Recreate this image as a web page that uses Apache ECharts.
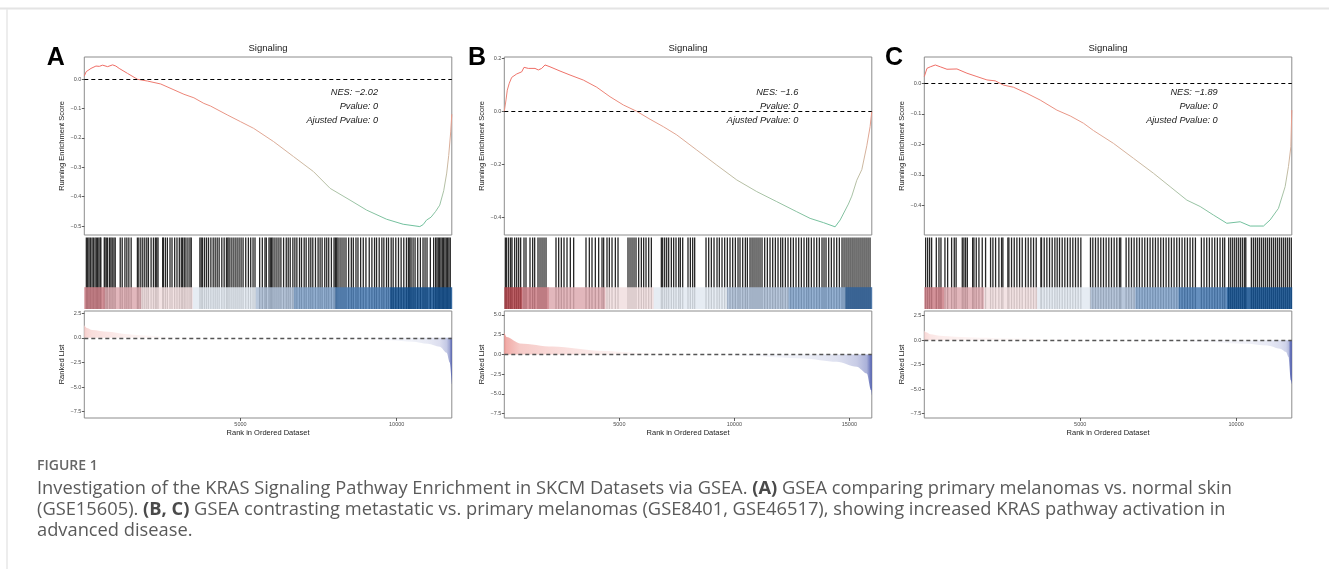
<!DOCTYPE html>
<html>
<head>
<meta charset="utf-8">
<script src="https://cdn.jsdelivr.net/npm/echarts@6/dist/echarts.min.js"></script>
<style>
  html, body { margin: 0; padding: 0; background: #fff; }
  #chart { width: 1329px; height: 569px; }
</style>
</head>
<body>
<div id="chart"></div>
<script>
// ---- data ----
const nGenesA = 11765, nGenesB = 15974, nGenesC = 11785;
const rankTicksAC = [5000, 10000];
const rankTicksB = [5000, 10000, 15000];

const esTicksA = [0.0, -0.1, -0.2, -0.3, -0.4, -0.5];
const esTicksB = [0.2, 0.0, -0.2, -0.4];
const esTicksC = [0.0, -0.1, -0.2, -0.3, -0.4];
const rlTicksA = [2.5, 0.0, -2.5, -5.0, -7.5];
const rlTicksB = [5.0, 2.5, 0.0, -2.5, -5.0, -7.5];
const rlTicksC = [2.5, 0.0, -2.5, -5.0, -7.5];

// running enrichment score
const esRankA = [0, 60, 214, 373, 480, 587, 746, 906, 1010, 1117, 1384, 1703, 2022, 2447, 2871, 3190, 3509, 3828, 4042, 4574, 4999, 5423, 6061, 6699, 7337, 7870, 8508, 9040, 9678, 10208, 10741, 10850, 10955, 11100, 11250, 11379, 11506, 11602, 11666, 11730, 11765];
const esValA = [0.01, 0.025, 0.036, 0.044, 0.043, 0.047, 0.042, 0.048, 0.044, 0.036, 0.019, -0.001, -0.007, -0.017, -0.037, -0.052, -0.064, -0.083, -0.092, -0.122, -0.145, -0.168, -0.213, -0.264, -0.315, -0.372, -0.412, -0.446, -0.477, -0.494, -0.502, -0.495, -0.48, -0.47, -0.45, -0.429, -0.38, -0.32, -0.26, -0.18, -0.12];

const esRankB = [0, 74, 130, 217, 322, 539, 757, 857, 1044, 1335, 1478, 1626, 1770, 1987, 2422, 2857, 3435, 4018, 4596, 5174, 5757, 6335, 6913, 7496, 8365, 9235, 10105, 10974, 11844, 12713, 13292, 13870, 14379, 14600, 14957, 15105, 15322, 15540, 15757, 15900, 15974];
const esValB = [0.0, 0.043, 0.080, 0.106, 0.128, 0.141, 0.149, 0.166, 0.162, 0.162, 0.156, 0.162, 0.175, 0.168, 0.152, 0.137, 0.118, 0.091, 0.055, 0.024, 0.0, -0.030, -0.058, -0.089, -0.146, -0.203, -0.259, -0.303, -0.341, -0.379, -0.404, -0.420, -0.436, -0.41, -0.35, -0.32, -0.26, -0.22, -0.13, -0.058, 0.0];

const esRankC = [0, 86, 192, 353, 513, 727, 1047, 1368, 1688, 2009, 2275, 2542, 2862, 3290, 3717, 4252, 4679, 5105, 5426, 6067, 6708, 7349, 7884, 8419, 8846, 9274, 9701, 10128, 10449, 10876, 11090, 11357, 11571, 11678, 11755, 11785];
const esValC = [0.022, 0.049, 0.054, 0.060, 0.054, 0.046, 0.047, 0.033, 0.022, 0.011, 0.008, -0.006, -0.013, -0.033, -0.055, -0.088, -0.107, -0.131, -0.155, -0.197, -0.246, -0.295, -0.339, -0.383, -0.404, -0.432, -0.459, -0.454, -0.468, -0.468, -0.448, -0.410, -0.339, -0.273, -0.208, -0.088];

// ranks of the gene-set members (barcode)
const hitsA = [65, 108, 150, 193, 246, 289, 342, 384, 427, 469, 512, 530, 640, 661, 703, 746, 809, 852, 894, 948, 990, 1150, 1213, 1300, 1362, 1426, 1500, 1700, 1745, 1809, 1872, 1936, 2000, 2053, 2138, 2213, 2276, 2319, 2360, 2510, 2531, 2595, 2659, 2744, 2808, 2893, 2967, 3042, 3105, 3148, 3201, 3254, 3318, 3382, 3424, 3701, 3743, 3786, 3850, 3913, 3977, 4052, 4126, 4190, 4254, 4317, 4402, 4477, 4551, 4594, 4636, 4700, 4764, 4828, 4891, 4955, 5019, 5083, 5168, 5253, 5327, 5402, 5465, 5614, 5699, 5784, 5827, 5912, 5954, 5997, 6040, 6103, 6167, 6231, 6294, 6380, 6465, 6528, 6592, 6677, 6741, 6805, 6890, 6954, 7039, 7102, 7187, 7251, 7315, 7400, 7485, 7549, 7613, 7698, 7761, 7825, 7910, 7995, 8038, 8080, 8123, 8187, 8250, 8314, 8378, 8463, 8548, 8612, 8697, 8761, 8846, 8931, 9016, 9122, 9207, 9292, 9356, 9441, 9526, 9590, 9675, 9739, 9824, 9888, 9972, 10058, 10143, 10228, 10313, 10376, 10419, 10461, 10525, 10589, 10674, 10759, 10844, 10908, 10972, 11078, 11184, 11248, 11291, 11333, 11376, 11418, 11461, 11503, 11546, 11588, 11631, 11673, 11716];
const hitsB = [45, 103, 190, 277, 335, 451, 538, 625, 711, 856, 943, 1117, 1233, 1320, 1465, 1552, 1639, 1726, 1813, 2247, 2363, 2479, 2595, 2726, 2870, 3015, 3551, 3696, 3812, 3957, 4102, 4247, 4319, 4464, 4566, 4682, 4827, 4943, 5377, 5464, 5551, 5638, 5725, 5841, 5957, 6058, 6160, 6276, 6392, 6826, 6884, 6971, 7058, 7145, 7261, 7362, 7464, 7580, 7652, 7754, 7985, 8087, 8188, 8275, 8768, 8884, 9000, 9116, 9246, 9347, 9463, 9579, 9695, 9811, 9927, 10043, 10159, 10246, 10362, 10478, 10565, 10681, 10768, 10854, 10941, 11028, 11115, 11202, 11318, 11434, 11550, 11666, 11782, 11898, 12014, 12101, 12217, 12332, 12448, 12564, 12680, 12796, 12912, 13028, 13144, 13231, 13347, 13463, 13579, 13694, 13810, 13897, 13984, 14100, 14216, 14332, 14448, 14564, 14680, 14767, 14854, 14941, 15028, 15115, 15201, 15288, 15375, 15462, 15549, 15636, 15723, 15810, 15897];
const hitsC = [43, 107, 171, 235, 385, 470, 534, 662, 748, 876, 961, 1020, 1218, 1270, 1324, 1380, 1550, 1591, 1666, 1752, 1858, 1965, 2125, 2200, 2286, 2392, 2478, 2520, 2680, 2713, 2798, 2884, 2969, 3055, 3140, 3247, 3332, 3418, 3503, 3589, 3740, 3759, 3845, 3930, 4016, 4101, 4187, 4261, 4336, 4422, 4507, 4592, 4678, 4763, 4849, 4934, 5020, 5329, 5404, 5490, 5575, 5660, 5746, 5831, 5917, 6002, 6088, 6173, 6259, 6300, 6472, 6558, 6643, 6728, 6814, 6899, 6985, 7070, 7156, 7241, 7327, 7412, 7497, 7583, 7668, 7754, 7839, 7925, 8010, 8096, 8181, 8266, 8352, 8437, 8523, 8608, 8694, 8886, 8971, 9057, 9142, 9228, 9313, 9398, 9484, 9569, 9633, 9762, 9826, 9890, 9954, 10018, 10082, 10146, 10210, 10274, 10310, 10488, 10552, 10616, 10680, 10744, 10808, 10872, 10936, 11000, 11065, 11129, 11193, 11257, 11321, 11385, 11449, 11513, 11577, 11641, 11705, 11769];

// colour band under the barcode: bin edges (rank) and bin level (0 = most up, 9 = most down)
const bandEdgesA = [0, 650, 1820, 3470, 5490, 6710, 8040, 9790, 11765];
const bandLevelA = [1, 2, 3, 4, 5, 6, 7, 9];
const bandEdgesB = [0, 770, 1930, 4390, 6490, 9680, 12360, 14825, 15974];
const bandLevelB = [0, 1, 2, 3, 4, 5, 6, 8];
const bandEdgesC = [0, 630, 1910, 3620, 5330, 6770, 8160, 9710, 11785];
const bandLevelC = [1, 2, 3, 4, 5, 6, 7, 9];

// ranked list metric
const rlRankA = [0, 80, 250, 750, 1300, 1800, 2500, 2900, 4000, 5000, 6000, 7000, 8000, 9000, 9800, 10500, 11000, 11380, 11600, 11700, 11765];
const rlValA = [1.3, 1.0, 0.8, 0.61, 0.4, 0.27, 0.15, 0.1, 0.05, 0.02, 0.0, -0.03, -0.07, -0.13, -0.25, -0.4, -0.6, -0.9, -1.5, -2.5, -4.7];
const rlRankB = [0, 100, 680, 2100, 4300, 6000, 7500, 9000, 10500, 13000, 14450, 15320, 15757, 15944, 15974];
const rlValB = [2.8, 2.2, 1.4, 1.0, 0.45, 0.2, 0.05, -0.05, -0.2, -0.5, -0.92, -1.55, -2.4, -4.5, -5.2];
const rlRankC = [0, 60, 200, 500, 1000, 1800, 2800, 4000, 5000, 6000, 7000, 8000, 9000, 10342, 11000, 11410, 11600, 11678, 11755, 11785];
const rlValC = [1.0, 0.8, 0.6, 0.45, 0.35, 0.25, 0.17, 0.1, 0.05, 0.0, -0.05, -0.1, -0.18, -0.37, -0.55, -0.88, -1.2, -1.7, -4.1, -4.5];

const nesLabels = ['NES: \u22122.02', 'NES: \u22121.6', 'NES: \u22121.89'];

// ---- layout / styling ----
const FONT = 'Liberation Sans, Arial, Helvetica, sans-serif';
const bandPalette = ['#b3464e', '#cb7e86', '#ddaab0', '#f1dedf', '#e2e9f1', '#abbdd5', '#84a4cb', '#4b7db4', '#30629a', '#13508f'];
const esColors = ['#6cc09c', '#a9c3a6', '#cfb7a0', '#e4a391', '#ec8779', '#ef6a63'];
const plotW = 367.5;
const topY = 57, topH = 178, bandY = 237.5, bandH = 71.5, rlY = 311, rlH = 107;
const bandFrac = 0.305;

const panels = [
  { n: nGenesA, esR: esRankA, esV: esValA, esT: esTicksA, esMin: -0.5306, esMax: 0.0748, hits: hitsA,
    bE: bandEdgesA, bL: bandLevelA, rlR: rlRankA, rlV: rlValA, rlT: rlTicksA, rlMin: -8.14, rlMax: 2.73,
    xT: rankTicksAC, left: 84.3, letter: 'A', letterX: 55.8, noteX: 378 },
  { n: nGenesB, esR: esRankB, esV: esValB, esT: esTicksB, esMin: -0.4668, esMax: 0.205, hits: hitsB,
    bE: bandEdgesB, bL: bandLevelB, rlR: rlRankB, rlV: rlValB, rlT: rlTicksB, rlMin: -8.04, rlMax: 5.5,
    xT: rankTicksB, left: 504.3, letter: 'B', letterX: 477, noteX: 798.3 },
  { n: nGenesC, esR: esRankC, esV: esValC, esT: esTicksC, esMin: -0.4974, esMax: 0.0862, hits: hitsC,
    bE: bandEdgesC, bL: bandLevelC, rlR: rlRankC, rlV: rlValC, rlT: rlTicksC, rlMin: -7.94, rlMax: 2.98,
    xT: rankTicksAC, left: 924.3, letter: 'C', letterX: 894, noteX: 1217.7 }
];

const fmt = v => (Math.abs(v) < 1e-9 ? 0 : v).toFixed(1).replace('-', '\u2212');

function mix(c, t) {
  const r = Math.round(255 - t * (255 - c[0]));
  const g = Math.round(255 - t * (255 - c[1]));
  const b = Math.round(255 - t * (255 - c[2]));
  return 'rgb(' + r + ',' + g + ',' + b + ')';
}
const upRGB = [222, 62, 52], downRGB = [70, 85, 172];

const grids = [], xAxes = [], yAxes = [], series = [], visualMaps = [], graphics = [];
const tickStyle = { color: '#333', width: 0.8 };
const labelStyle = { fontSize: 5.5, color: '#4d4d4d', fontFamily: FONT, margin: 3 };
const nameStyle = { fontSize: 7.5, color: '#1a1a1a', fontFamily: FONT };

panels.forEach((p, i) => {
  const g = i * 3;
  grids.push({ left: p.left, top: topY, width: plotW, height: topH, show: true, borderColor: '#8c8c8c', borderWidth: 1, outerBoundsMode: 'none' });
  grids.push({ left: p.left, top: bandY, width: plotW, height: bandH, show: false, outerBoundsMode: 'none' });
  grids.push({ left: p.left, top: rlY, width: plotW, height: rlH, show: true, borderColor: '#8c8c8c', borderWidth: 1, outerBoundsMode: 'none' });

  // ES panel
  xAxes.push({ gridIndex: g, type: 'value', min: 0, max: p.n, show: false });
  yAxes.push({ gridIndex: g, type: 'value', min: p.esMin, max: p.esMax,
    axisLine: { show: false, onZero: false }, splitLine: { show: false },
    axisTick: { show: true, length: 2.5, lineStyle: tickStyle, customValues: p.esT },
    axisLabel: Object.assign({ customValues: p.esT, formatter: fmt }, labelStyle),
    name: 'Running Enrichment Score', nameLocation: 'middle', nameGap: 18, nameTextStyle: nameStyle });
  // barcode panel
  xAxes.push({ gridIndex: g + 1, type: 'value', min: 0, max: p.n, show: false });
  yAxes.push({ gridIndex: g + 1, type: 'value', min: 0, max: 1, show: false });
  // ranked list panel
  xAxes.push({ gridIndex: g + 2, type: 'value', min: 0, max: p.n,
    axisLine: { show: false, onZero: false }, splitLine: { show: false },
    axisTick: { show: true, length: 3, lineStyle: tickStyle, customValues: p.xT },
    axisLabel: Object.assign({ customValues: p.xT, formatter: v => String(v) }, labelStyle),
    name: 'Rank in Ordered Dataset', nameLocation: 'middle', nameGap: 11, nameTextStyle: nameStyle });
  yAxes.push({ gridIndex: g + 2, type: 'value', min: p.rlMin, max: p.rlMax,
    axisLine: { show: false, onZero: false }, splitLine: { show: false },
    axisTick: { show: true, length: 2.5, lineStyle: tickStyle, customValues: p.rlT },
    axisLabel: Object.assign({ customValues: p.rlT, formatter: fmt }, labelStyle),
    name: 'Ranked List', nameLocation: 'middle', nameGap: 18, nameTextStyle: nameStyle });

  const esData = p.esR.map((r, k) => [r, p.esV[k]]);
  visualMaps.push({ type: 'continuous', show: false, seriesIndex: series.length, dimension: 1,
    min: Math.min.apply(null, p.esV), max: Math.max.apply(null, p.esV), inRange: { color: esColors } });
  series.push({ type: 'line', xAxisIndex: g, yAxisIndex: g, data: esData, showSymbol: false, z: 4,
    lineStyle: { width: 1 },
    markLine: { silent: true, symbol: ['none', 'none'], label: { show: false },
      lineStyle: { color: '#000', type: [4, 3], width: 1 }, data: [{ yAxis: 0 }] } });

  series.push({ type: 'custom', xAxisIndex: g + 1, yAxisIndex: g + 1, z: 2,
    data: p.hits.map(r => [r]),
    renderItem: (params, api) => {
      const x = api.coord([api.value(0), 0])[0];
      const yTop = api.coord([0, 1])[1], yBot = api.coord([0, 0])[1];
      return { type: 'line', shape: { x1: x, y1: yTop, x2: x, y2: yBot }, style: { stroke: '#262626', lineWidth: 1.3 } };
    } });

  const bins = p.bL.map((lv, k) => [p.bE[k], p.bE[k + 1], lv]);
  series.push({ type: 'custom', xAxisIndex: g + 1, yAxisIndex: g + 1, z: 3,
    data: bins,
    renderItem: (params, api) => {
      const x0 = api.coord([api.value(0), 0])[0];
      const x1 = api.coord([api.value(1), 0])[0];
      const yTop = api.coord([0, bandFrac])[1], yBot = api.coord([0, 0])[1];
      return { type: 'rect', shape: { x: x0, y: yTop, width: x1 - x0 + 0.4, height: yBot - yTop },
        style: { fill: bandPalette[api.value(2)], opacity: 0.85 } };
    } });

  const maxAbs = Math.max.apply(null, p.rlV.map(Math.abs));
  const stops = p.rlR.map((r, k) => {
    const v = p.rlV[k];
    return { offset: r / p.n, color: v >= 0 ? mix(upRGB, v / maxAbs) : mix(downRGB, -v / maxAbs) };
  });
  series.push({ type: 'line', xAxisIndex: g + 2, yAxisIndex: g + 2, showSymbol: false, z: 2,
    smooth: 0.3, smoothMonotone: 'x',
    data: p.rlR.map((r, k) => [r, p.rlV[k]]),
    lineStyle: { width: 0 },
    areaStyle: { opacity: 1, color: { type: 'linear', x: 0, y: 0, x2: 1, y2: 0, colorStops: stops } },
    markLine: { silent: true, symbol: ['none', 'none'], label: { show: false },
      lineStyle: { color: '#555', type: [4, 3], width: 1.3 }, data: [{ yAxis: 0 }] } });

  // titles, letters, NES notes
  graphics.push({ type: 'text', style: { text: 'Signaling', x: p.left + plotW / 2, y: 48, align: 'center', verticalAlign: 'middle',
    fontSize: 9.5, fontFamily: FONT, fill: '#1a1a1a' } });
  graphics.push({ type: 'text', style: { text: p.letter, x: p.letterX, y: 58.5, align: 'center', verticalAlign: 'middle',
    fontSize: 25, fontWeight: 'bold', fontFamily: FONT, fill: '#000' } });
  [nesLabels[i], 'Pvalue: 0', 'Ajusted Pvalue: 0'].forEach((t, k) => {
    graphics.push({ type: 'text', z: 10, style: { text: t, x: p.noteX, y: 92.7 + 14 * k, align: 'right', verticalAlign: 'middle',
      fontSize: 9.2, fontStyle: 'italic', fontFamily: FONT, fill: '#1a1a1a' } });
  });
});

// page furniture and caption
const CAP = 'Open Sans, Lato, sans-serif';
const capSize = 18.3;
const capRich = { b: { fontSize: capSize, fontFamily: CAP, fontWeight: 'bold', fill: '#4a4a4a' } };
graphics.push({ type: 'rect', shape: { x: 0, y: 7.5, width: 1329, height: 2 }, style: { fill: '#e4e4e4' } });
graphics.push({ type: 'rect', shape: { x: 6.5, y: 9.5, width: 1, height: 560 }, style: { fill: '#dcdcdc' } });
graphics.push({ type: 'text', style: { text: 'FIGURE 1', x: 37, y: 466.5, verticalAlign: 'middle',
  fontSize: 14, fontWeight: 600, fontFamily: CAP, fill: '#666' } });
const capLines = [
  'Investigation of the KRAS Signaling Pathway Enrichment in SKCM Datasets via GSEA. {b|(A)} GSEA comparing primary melanomas vs. normal skin',
  '(GSE15605). {b|(B, C)} GSEA contrasting metastatic vs. primary melanomas (GSE8401, GSE46517), showing increased KRAS pathway activation in',
  'advanced disease.'
];
capLines.forEach((t, k) => {
  graphics.push({ type: 'text', style: { text: t, x: 37, y: 489 + 21 * k, verticalAlign: 'middle',
    fontSize: capSize, fontFamily: CAP, fill: '#5a5a5a', rich: capRich } });
});

const chart = echarts.init(document.getElementById('chart'), null, { renderer: 'canvas' });
chart.setOption({
  animation: false,
  backgroundColor: '#fff',
  grid: grids,
  xAxis: xAxes,
  yAxis: yAxes,
  visualMap: visualMaps,
  series: series,
  graphic: graphics
});
</script>
</body>
</html>
